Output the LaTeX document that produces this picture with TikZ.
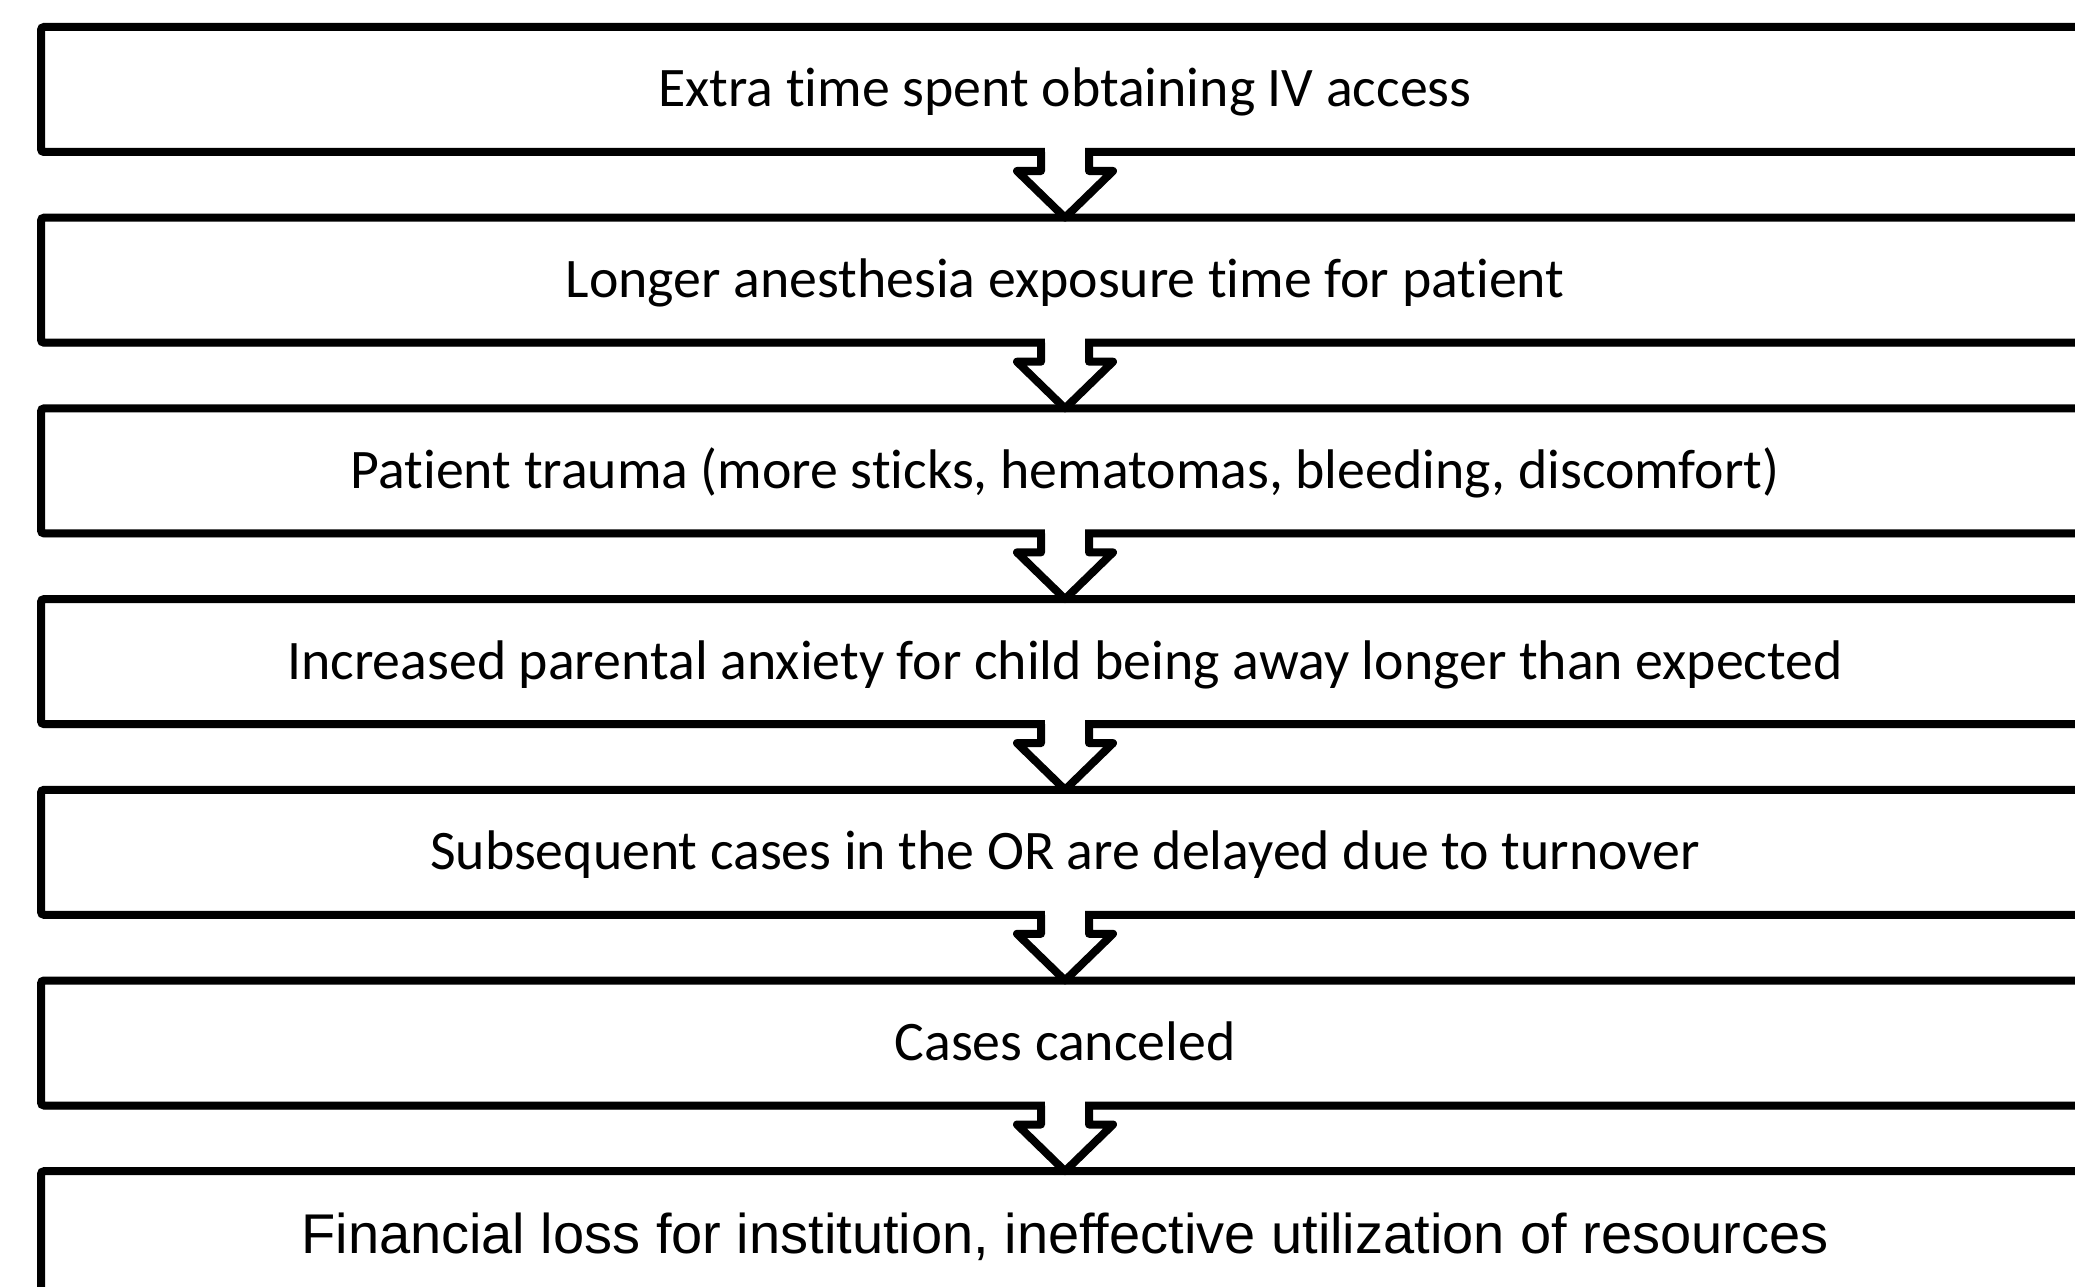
\documentclass[tikz,border=0pt]{standalone}
\usepackage{fontspec}
\setmainfont[Ligatures={NoCommon}]{Carlito}
\newfontfamily\arialf{Liberation Sans}
\usetikzlibrary{calc,shadows}
\tikzset{
  stepbox/.style={draw=black, line width=8pt, fill=white, rectangle, rounded corners=3pt,
    minimum width=2048pt, minimum height=125pt, inner sep=0pt, outer sep=0pt,
    text height=35pt, text depth=0pt, font=\fontsize{55.8}{62}\selectfont,
    drop shadow={shadow xshift=1pt, shadow yshift=-4pt, opacity=0.25, fill=black}},
  lastbox/.style={stepbox, text height=39pt, font=\arialf\fontsize{56}{64}\selectfont},
  blockarrow/.style={draw=black, line width=8pt, line join=round},
}
\begin{document}
\begin{tikzpicture}[x=1pt,y=-1pt]
\useasboundingbox (0,0) rectangle (2075,1287);
\fill[white] (0,0) rectangle (2075,1287);
\clip (0,0) rectangle (2075,1287);
\node[stepbox] (b1) at (1065,89.5) {Extra time spent obtaining IV access};
\node[stepbox] (b2) at (1065,280.2) {Longer anesthesia exposure time for patient};
\node[stepbox] (b3) at (1065,470.9) {Patient trauma (more sticks, hematomas, bleeding, discomfort)};
\node[stepbox] (b4) at (1065,661.6) {Increased parental anxiety for child being away longer than expected};
\node[stepbox] (b5) at (1065,852.3) {Subsequent cases in the OR are delayed due to turnover};
\node[stepbox] (b6) at (1065,1043.0) {Cases canceled};
\node[lastbox] (b7) at (1065,1233.7) {Financial loss for institution, ineffective utilization of resources};
\foreach \a/\b in {b1/b2,b2/b3,b3/b4,b4/b5,b5/b6,b6/b7}{
  \fill[white] ($(\a.south)+(-20,-5)$) rectangle ($(\a.south)+(20,5)$);
  \draw[blockarrow] ($(\a.south)+(-24,0)$) -- ++(0,19) -- ++(-24,0) -- (\b.north)
     -- ($(\a.south)+(48,19)$) -- ++(-24,0) -- ++(0,-19);
}
\end{tikzpicture}
\end{document}
